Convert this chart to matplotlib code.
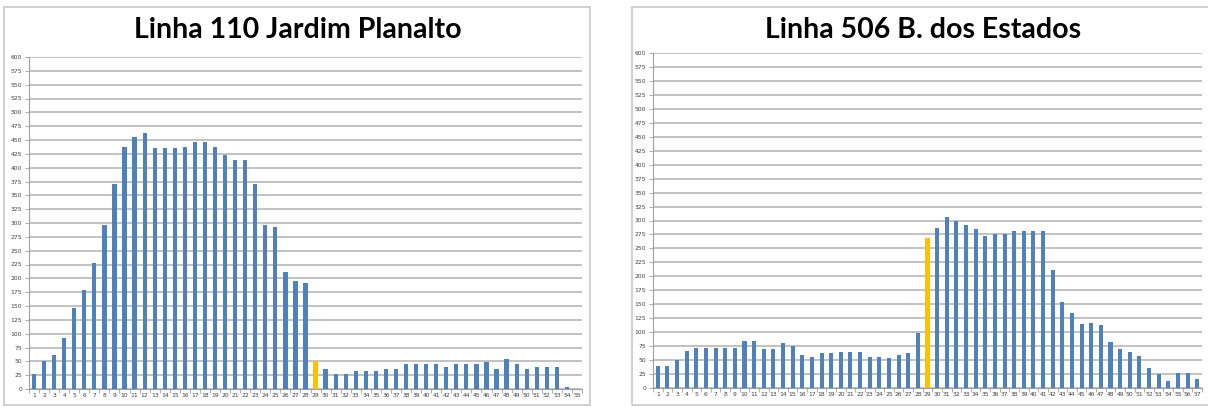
import numpy as np
import matplotlib.pyplot as plt
from matplotlib.patches import Rectangle

# passengers per stop, line 110
stops_110 = list(range(1, 56))
pax_110 = [28, 50, 62, 93, 147, 179, 227, 297, 370, 438,
           455, 463, 435, 435, 435, 438, 447, 447, 438, 422,
           414, 414, 370, 297, 293, 212, 195, 191, 50, 36,
           28, 28, 33, 33, 33, 37, 37, 45, 45, 45,
           45, 40, 45, 45, 45, 49, 36, 54, 45, 36,
           40, 40, 40, 4, 0]

# passengers per stop, line 506
stops_506 = list(range(1, 58))
pax_506 = [40, 40, 50, 66, 72, 72, 72, 72, 72, 85,
           85, 69, 69, 80, 75, 59, 55, 62, 62, 65,
           65, 65, 56, 56, 53, 59, 62, 99, 269, 287,
           307, 299, 292, 284, 273, 276, 276, 282, 282, 282,
           282, 212, 154, 135, 114, 117, 112, 83, 69, 64,
           58, 36, 25, 13, 26, 26, 16]

highlight_stop = 29
BLUE = '#4f81bd'
ORANGE = '#ffc000'
W, H = 1208, 407

fig = plt.figure(figsize=(W / 100, H / 100), dpi=100)
fig.patch.set_facecolor('white')


def px_axes(x0, x1, ytop, ybot):
    return fig.add_axes([x0 / W, 1 - ybot / H, (x1 - x0) / W, (ybot - ytop) / H])


def draw_panel(ax, stops, pax, title, tx):
    colors = [ORANGE if s == highlight_stop else BLUE for s in stops]
    x = np.arange(len(stops))
    ax.bar(x, pax, width=0.42, color=colors, zorder=3)
    ax.set_xlim(-0.5, len(stops) - 0.5)
    ax.set_ylim(0, 600)
    ax.set_yticks(range(0, 601, 25))
    ax.set_yticklabels([str(v) for v in range(0, 601, 25)], fontsize=4.3, color='#404040')
    ax.set_xticks(x)
    ax.set_xticklabels([str(s) for s in stops], fontsize=4.3, color='#404040')
    ax.set_xticks(np.arange(-0.5, len(stops)), minor=True)
    ax.tick_params(axis='x', which='major', length=0, pad=3)
    ax.tick_params(axis='x', which='minor', length=3, color='#a0a0a0', width=0.6)
    ax.tick_params(axis='y', length=3, color='#a0a0a0', width=0.6, pad=2)
    ax.grid(axis='y', color='#b8b8b8', linewidth=1.2, zorder=0)
    for s in ['top', 'right']:
        ax.spines[s].set_visible(False)
    for s in ['left', 'bottom']:
        ax.spines[s].set_color('#a0a0a0')
        ax.spines[s].set_linewidth(0.8)
    fig.text(tx / W, 1 - 30 / H, title, ha='center', va='center',
             fontsize=20.5, fontweight='bold', family='Lato', color='black')


# panel frames
fig.patches.append(Rectangle((4 / W, 1 - 405 / H), 586 / W, 398 / H,
                             transform=fig.transFigure, fill=False,
                             edgecolor='#c8c8c8', linewidth=1.2))
fig.patches.append(Rectangle((632 / W, 1 - 405 / H), 590 / W, 398 / H,
                             transform=fig.transFigure, fill=False,
                             edgecolor='#c8c8c8', linewidth=1.2))

ax1 = px_axes(29, 582, 57, 389)
draw_panel(ax1, stops_110, pax_110, 'Linha 110 Jardim Planalto', 298)

ax2 = px_axes(653, 1202, 53, 388)
draw_panel(ax2, stops_506, pax_506, 'Linha 506 B. dos Estados', 923)

fig.savefig('out.png', dpi=100, facecolor='white')
